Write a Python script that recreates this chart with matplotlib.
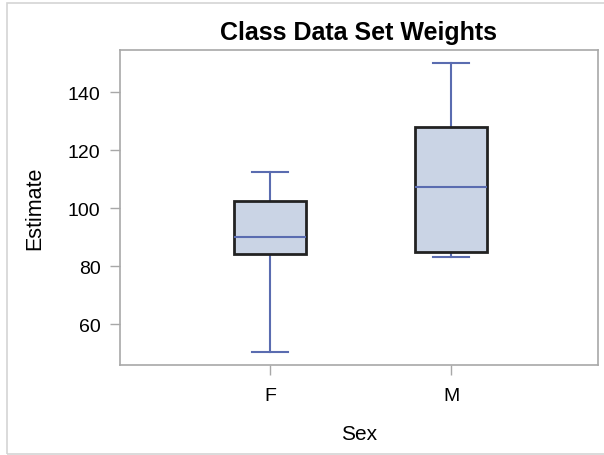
import matplotlib
matplotlib.use("Agg")
import matplotlib.pyplot as plt
from matplotlib.patches import Rectangle

plt.rcParams['font.family'] = ['Liberation Sans', 'DejaVu Sans']

# Five-number summaries of weight by sex
categories = ["F", "M"]
mins = [50.5, 83.0]
q1s = [84.0, 85.0]
medians = [90.0, 107.25]
q3s = [102.5, 128.0]
maxes = [112.5, 150.0]
y_ticks = [60, 80, 100, 120, 140]

title = "Class Data Set Weights"
x_label = "Sex"
y_label = "Estimate"

fill_color = "#CAD4E5"
edge_color = "#222222"
line_color = "#5A6CB0"
frame_color = "#A8A8A8"

fig = plt.figure(figsize=(6.04, 4.56), dpi=100)
ax = fig.add_axes([120 / 604, 1 - 366 / 456, 478 / 604, 315 / 456])

stats = []
for name, lo, a, m, b, hi in zip(categories, mins, q1s, medians, q3s, maxes):
    stats.append(dict(label=name, whislo=lo, q1=a, med=m, q3=b, whishi=hi, fliers=[]))

positions = list(range(len(categories)))
parts = ax.bxp(stats, positions=positions, widths=0.40, patch_artist=True,
               showfliers=False,
               boxprops=dict(facecolor=fill_color, edgecolor=edge_color, linewidth=2.0),
               medianprops=dict(color=line_color, linewidth=1.5),
               whiskerprops=dict(color=line_color, linewidth=1.5),
               capprops=dict(color=line_color, linewidth=1.5),
               capwidths=0.20)

# whiskers and caps sit beneath the boxes, medians on top
for ln in parts['whiskers'] + parts['caps']:
    ln.set_zorder(1.5)
for p in parts['boxes']:
    p.set_zorder(2)
for ln in parts['medians']:
    ln.set_zorder(3)

ax.set_xlim(-0.829, 1.812)
ax.set_ylim(45.86, 154.5)
ax.set_xticks(positions)
ax.set_xticklabels(categories)
ax.set_yticks(y_ticks)

for s in ax.spines.values():
    s.set_color(frame_color)
    s.set_linewidth(1.2)

ax.tick_params(axis='both', colors=frame_color, length=7, width=1.0,
               labelcolor='black', labelsize=14)
ax.tick_params(axis='y', pad=7)
ax.tick_params(axis='x', pad=9)

ax.set_xlabel(x_label, fontsize=15, labelpad=14)
ax.set_ylabel(y_label, fontsize=15.5, labelpad=16)

fig.text(359 / 604, 1 - 40 / 456, title, ha='center', va='baseline',
         fontsize=18, fontweight='bold')

# light outer border of the graph region
fig.patches.append(Rectangle((7 / 604, 1 - 455 / 456), 1.2, 451 / 456,
                             transform=fig.transFigure, fill=False,
                             edgecolor="#D4D4D4", linewidth=1.2))

fig.savefig("out.png", dpi=100)
